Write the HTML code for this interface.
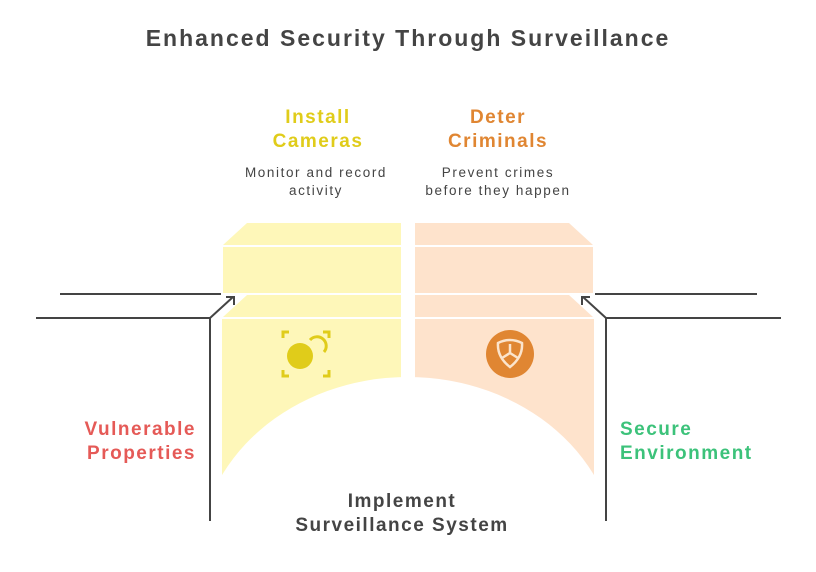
<!DOCTYPE html>
<html><head><meta charset="utf-8"><style>
body{margin:0;background:#fff;}
svg text{font-family:"Liberation Sans",sans-serif;font-weight:bold;letter-spacing:1.5px;}
</style></head><body>
<svg width="816" height="567" viewBox="0 0 816 567" xmlns="http://www.w3.org/2000/svg">
<defs>
<mask id="m"><rect width="816" height="567" fill="#fff"/><ellipse cx="408" cy="560" rx="210" ry="183" fill="#000"/></mask>
</defs>
<text x="408" y="46" text-anchor="middle" font-size="23" fill="#444" style="letter-spacing:2px">Enhanced Security Through Surveillance</text>
<g fill="#fef7b9">
<polygon points="247,223 401,223 401,245 223,245"/>
<rect x="223" y="247" width="178" height="46"/>
<polygon points="247,295 401,295 401,317 223,317"/>
<rect x="222" y="319" width="179" height="160" mask="url(#m)"/>
</g>
<g fill="#fee3cc">
<polygon points="415,223 569,223 593,245 415,245"/>
<rect x="415" y="247" width="178" height="46"/>
<polygon points="415,295 569,295 593,317 415,317"/>
<rect x="415" y="319" width="179" height="160" mask="url(#m)"/>
</g>
<g stroke="#e0cc1a" stroke-width="3" fill="none">
<path d="M283,338 v-6 h6 M323,332 h6 v6 M283,370 v6 h6 M323,376 h6 v-6"/>
<path d="M310,340 a9,9 0 0 1 14,12"/>
</g>
<circle cx="300" cy="356" r="13" fill="#e0cc1a"/>
<circle cx="510" cy="354" r="24" fill="#e08632"/>
<path d="M498,343 q12,-6 24,0 q1,14 -12,24 q-13,-10 -12,-24z M510,344 v9 M510,353 l-8,5 M510,353 l8,5" stroke="#fbe4cc" stroke-width="2.5" fill="none"/>
<g stroke="#444" stroke-width="2" fill="none">
<path d="M60,294 H221"/>
<path d="M36,318 H210 V521"/>
<path d="M210,318 L233,297"/>
<path d="M226,297 H234 V305"/>
<path d="M595,294 H757"/>
<path d="M781,318 H606 V521"/>
<path d="M606,318 L583,297"/>
<path d="M590,297 H582 V305"/>
</g>
<text x="318" y="123" text-anchor="middle" font-size="19" fill="#e0cc1a">Install</text>
<text x="318" y="147" text-anchor="middle" font-size="19" fill="#e0cc1a">Cameras</text>
<text x="498" y="123" text-anchor="middle" font-size="19" fill="#e08632">Deter</text>
<text x="498" y="147" text-anchor="middle" font-size="19" fill="#e08632">Criminals</text>
<g font-size="13.5" fill="#444" text-anchor="middle">
<text x="316" y="177" style="font-weight:normal;letter-spacing:1.6px">Monitor and record</text>
<text x="316" y="195" style="font-weight:normal;letter-spacing:1.6px">activity</text>
<text x="498" y="177" style="font-weight:normal;letter-spacing:1.6px">Prevent crimes</text>
<text x="498" y="195" style="font-weight:normal;letter-spacing:1.6px">before they happen</text>
</g>
<text x="196" y="435" text-anchor="end" font-size="19" fill="#e55a57">Vulnerable</text>
<text x="196" y="459" text-anchor="end" font-size="19" fill="#e55a57">Properties</text>
<text x="620" y="435" font-size="19" fill="#3cc27a">Secure</text>
<text x="620" y="459" font-size="19" fill="#3cc27a">Environment</text>
<text x="402" y="507" text-anchor="middle" font-size="19" fill="#444">Implement</text>
<text x="402" y="531" text-anchor="middle" font-size="19" fill="#444">Surveillance System</text>
</svg>
</body></html>
